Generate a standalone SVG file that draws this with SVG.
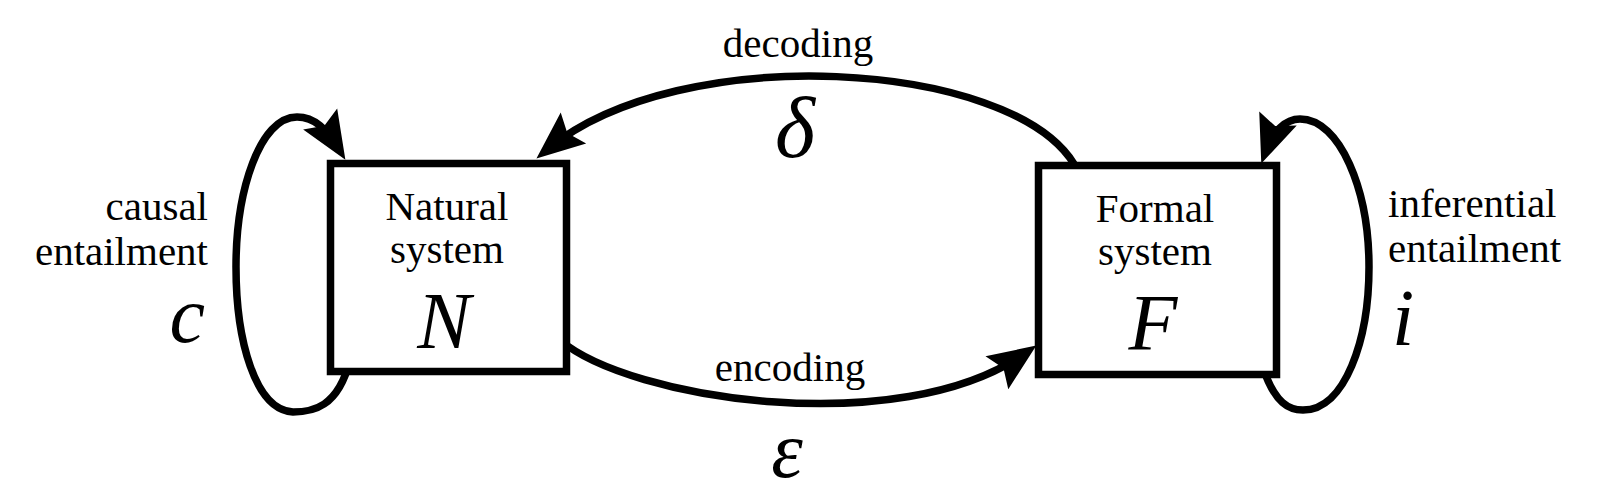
<svg xmlns="http://www.w3.org/2000/svg" width="1600" height="500" viewBox="0 0 1600 500">
<style>
  .lbl { font-family: "Liberation Serif", "Times New Roman", serif; font-size: 41px; fill: #000; }
  .sym { font-family: "Liberation Serif", "Times New Roman", serif; font-size: 80px; font-style: italic; fill: #000; }
  .box { fill: #fff; stroke: #000; stroke-width: 7.5; }
  .edge { fill: none; stroke: #000; stroke-width: 7.5; marker-end: url(#arrow); }
</style>
<defs>
  <marker id="arrow" markerUnits="userSpaceOnUse" markerWidth="90" markerHeight="90" viewBox="-45 -45 90 90" refX="0" refY="0" orient="auto">
    <path d="M 15 0 L -33 -20 L -25 0 L -33 20 Z" fill="#000"/>
  </marker>
</defs>
<rect width="1600" height="500" fill="#fff"/>
<g id="connectors">
  <path id="decoding" class="edge" d="M 1074 164 C 1010 60, 680 40, 548 149"/>
  <path id="encoding" class="edge" d="M 560 340 C 630 400, 900 440, 1024 354"/>
  <path id="causal" class="edge" d="M 350 360 C 338 408, 312 412, 293 412 C 255 410, 236 340, 236 267 C 236 190, 260 117, 297 117 C 315 117, 327 130, 337.5 147"/>
  <path id="inferential" class="edge" d="M 1262 365 C 1275 405, 1290 410, 1303 410 C 1345 410, 1369 340, 1369 267 C 1369 190, 1340 119, 1300 119 C 1285 119, 1273 132, 1266.5 149.5"/>
</g>
<g id="natural">
  <rect class="box" x="330.5" y="163.5" width="236" height="208"/>
  <text class="lbl" x="447" y="220" text-anchor="middle">Natural</text>
  <text class="lbl" x="447" y="263" text-anchor="middle">system</text>
  <text class="sym" x="444" y="348" text-anchor="middle">N</text>
</g>
<g id="formal">
  <rect class="box" x="1038.5" y="165.5" width="238" height="209"/>
  <text class="lbl" x="1155" y="222" text-anchor="middle">Formal</text>
  <text class="lbl" x="1155" y="265" text-anchor="middle">system</text>
  <text class="sym" x="1153" y="350" text-anchor="middle">F</text>
</g>
<g id="labels">
  <text class="lbl" x="798" y="57" text-anchor="middle">decoding</text>
  <text class="sym" x="795" y="157" text-anchor="middle" style="font-size:86px">δ</text>
  <text class="lbl" x="790" y="381" text-anchor="middle">encoding</text>
  <text class="sym" x="787" y="477" text-anchor="middle">ε</text>
  <text class="lbl" x="208" y="220" text-anchor="end">causal</text>
  <text class="lbl" x="208" y="265" text-anchor="end">entailment</text>
  <text class="sym" x="205" y="342" text-anchor="end">c</text>
  <text class="lbl" x="1388" y="217" text-anchor="start">inferential</text>
  <text class="lbl" x="1388" y="262" text-anchor="start">entailment</text>
  <text class="sym" x="1392" y="345" text-anchor="start">i</text>
</g>
</svg>
